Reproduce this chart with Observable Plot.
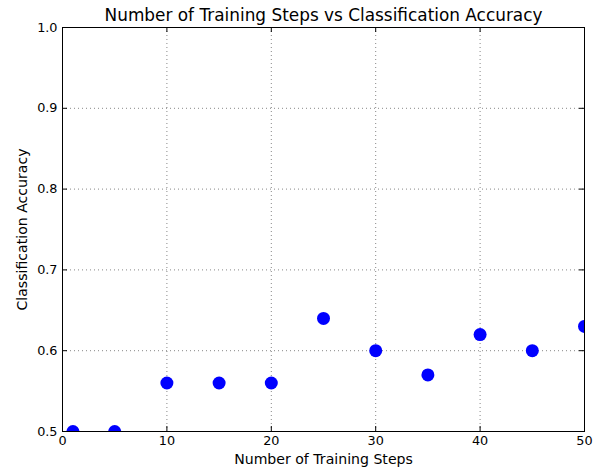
<!DOCTYPE html>
<html>
<head>
<meta charset="utf-8">
<script src="https://cdn.jsdelivr.net/npm/d3@7"></script>
<script src="https://cdn.jsdelivr.net/npm/@observablehq/plot@0.6"></script>
<style>
  html, body { margin: 0; padding: 0; background: #fff; }
  svg { display: block; }
</style>
</head>
<body>
<div id="chart"></div>
<script>
const steps = [1, 5, 10, 15, 20, 25, 30, 35, 40, 45, 50];
const accuracy = [0.50, 0.50, 0.56, 0.56, 0.56, 0.64, 0.60, 0.57, 0.62, 0.60, 0.63];
const xTicks = [0, 10, 20, 30, 40, 50];
const yTicks = [0.5, 0.6, 0.7, 0.8, 0.9, 1.0];
const titleText = "Number of Training Steps vs Classification Accuracy";
const xLabel = "Number of Training Steps";
const yLabel = "Classification Accuracy";

const data = steps.map((s, i) => ({step: s, acc: accuracy[i]}));

const W = 598, H = 470;
const mL = 62, mR = 14, mT = 27, mB = 39;
const innerH = H - mT - mB;
const innerW = W - mL - mR;
const font = "DejaVu Sans, sans-serif";

const chart = Plot.plot({
  width: W,
  height: H,
  marginLeft: mL,
  marginRight: mR,
  marginTop: mT,
  marginBottom: mB,
  style: {fontFamily: font, fontSize: "12.8px", color: "#000", background: "#fff"},
  x: {domain: [0, 50], ticks: xTicks, tickFormat: d => String(d)},
  y: {domain: [0.5, 1.0], ticks: yTicks, tickFormat: d3.format(".1f")},
  marks: [
    Plot.gridX(xTicks.slice(1, -1), {stroke: "#000", strokeOpacity: 0.6, strokeDasharray: "1,3", strokeWidth: 0.8}),
    Plot.gridY(yTicks.slice(1, -1), {stroke: "#000", strokeOpacity: 0.6, strokeDasharray: "1,3", strokeWidth: 0.8}),
    Plot.tickX(xTicks, {x: d => d, insetTop: innerH - 5, stroke: "#000"}),
    Plot.tickX(xTicks, {x: d => d, insetBottom: innerH - 5, stroke: "#000"}),
    Plot.tickY(yTicks, {y: d => d, insetRight: innerW - 5, stroke: "#000"}),
    Plot.tickY(yTicks, {y: d => d, insetLeft: innerW - 5, stroke: "#000"}),
    Plot.axisX(xTicks, {tickSize: 0, tickPadding: 4, fontSize: 12.8, label: null}),
    Plot.axisY(yTicks, {tickSize: 0, tickPadding: 5, fontSize: 12.8, label: null, tickFormat: d3.format(".1f")}),
    Plot.dot(data, {x: "step", y: "acc", r: 6.5, fill: "#0000ff", stroke: null, clip: true}),
    Plot.frame({stroke: "#000", strokeWidth: 1}),
    Plot.text([titleText], {frameAnchor: "top", dy: -12, lineAnchor: "middle", textAnchor: "middle", fontSize: 16.9, text: d => d, fill: "#000"}),
    Plot.text([xLabel], {frameAnchor: "bottom", dy: 28, lineAnchor: "middle", textAnchor: "middle", fontSize: 14.1, text: d => d, fill: "#000"}),
    Plot.text([yLabel], {frameAnchor: "left", dx: -40, rotate: -90, lineAnchor: "middle", textAnchor: "middle", fontSize: 14.1, text: d => d, fill: "#000"})
  ]
});
document.getElementById("chart").appendChild(chart);
</script>
</body>
</html>
